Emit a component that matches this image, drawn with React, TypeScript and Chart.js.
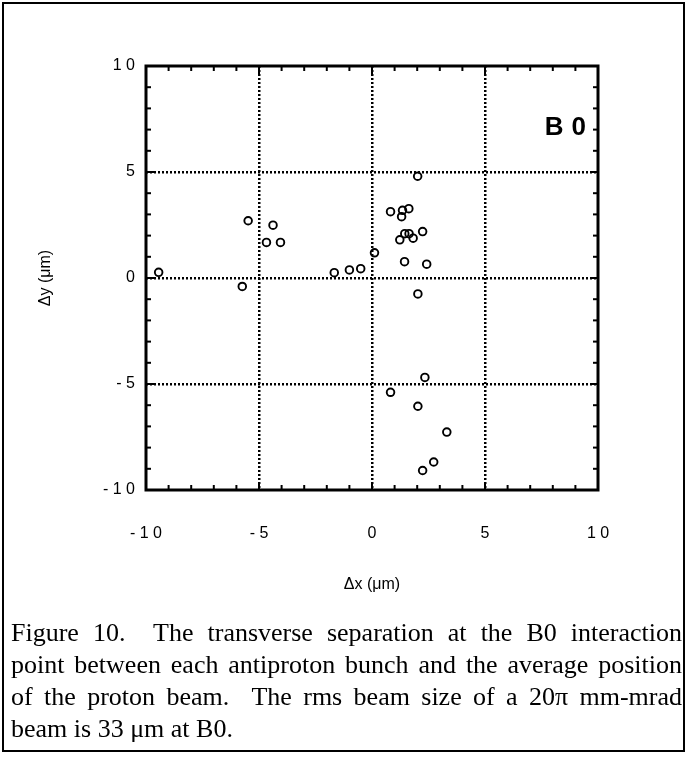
import React, { useEffect, useRef } from "react";
import { Chart, registerables } from "chart.js";

Chart.register(...registerables);

// Data (Δx, Δy in µm)
const xValues = [
  -9.44, -5.74, -5.48, -4.38, -4.67, -4.05, -1.67, -1.0, -0.5, 0.11,
  2.02, 0.82, 1.31, 1.35, 1.63, 1.23, 1.45, 1.64, 1.82, 2.24,
  1.44, 2.42, 2.03, 2.34, 0.82, 2.03, 3.31, 2.73, 2.24,
];
const yValues = [
  0.27, -0.4, 2.7, 2.49, 1.68, 1.68, 0.25, 0.38, 0.44, 1.19,
  4.8, 3.13, 2.89, 3.19, 3.27, 1.8, 2.09, 2.09, 1.88, 2.19,
  0.77, 0.65, -0.75, -4.69, -5.39, -6.05, -7.27, -8.68, -9.08,
];
const xTicks = [-10, -5, 0, 5, 10];
const yTicks = [-10, -5, 0, 5, 10];
const minorTicks = [-9, -8, -7, -6, -5, -4, -3, -2, -1, 0, 1, 2, 3, 4, 5, 6, 7, 8, 9];
const panelLabel = "B0";
const xTitle = "Δx (μm)";
const yTitle = "Δy (μm)";
const captionLines = [
  "Figure 10.  The transverse separation at the B0 interaction",
  "point between each antiproton bunch and the average position",
  "of the proton beam.  The rms beam size of a 20π mm-mrad",
  "beam is 33 μm at B0.",
];

const spaced = (v: number | string) => String(v).split("").join(" ");

const framePlugin = {
  id: "frameTicks",
  afterDraw(chart: any) {
    const { ctx, chartArea: a, scales } = chart;
    const xs = scales.x;
    const ys = scales.y;
    ctx.save();
    ctx.strokeStyle = "#000";
    ctx.lineCap = "butt";
    const line = (x1: number, y1: number, x2: number, y2: number) => {
      ctx.beginPath();
      ctx.moveTo(x1, y1);
      ctx.lineTo(x2, y2);
      ctx.stroke();
    };
    ctx.lineWidth = 2;
    for (const v of minorTicks) {
      const len = v % 5 === 0 ? 8 : 5;
      const px = xs.getPixelForValue(v);
      line(px, a.bottom, px, a.bottom - len);
      line(px, a.top, px, a.top + len);
      const py = ys.getPixelForValue(v);
      line(a.left, py, a.left + len, py);
      line(a.right, py, a.right - len, py);
    }
    ctx.lineWidth = 3;
    ctx.strokeRect(a.left, a.top, a.right - a.left, a.bottom - a.top);
    ctx.fillStyle = "#000";
    ctx.font = 'bold 26px "Liberation Sans"';
    (ctx as any).letterSpacing = "8px";
    ctx.textAlign = "right";
    ctx.textBaseline = "middle";
    ctx.fillText(panelLabel, a.right - 12 + 8, a.top + 62);
    ctx.restore();
  },
};

const gridColor = (c: any) =>
  c.tick && Math.abs(c.tick.value) === 10 ? "rgba(0,0,0,0)" : "#000";

export default function App() {
  const canvasRef = useRef<HTMLCanvasElement | null>(null);

  useEffect(() => {
    if (!canvasRef.current) return;
    const chart = new Chart(canvasRef.current, {
      type: "scatter",
      data: {
        datasets: [
          {
            data: xValues.map((x, i) => ({ x, y: yValues[i] })),
            pointStyle: "circle",
            pointRadius: 3.8,
            pointBorderWidth: 1.9,
            pointBackgroundColor: "rgba(0,0,0,0)",
            pointBorderColor: "#000",
            showLine: false,
          } as any,
        ],
      },
      options: {
        animation: false,
        responsive: false,
        devicePixelRatio: 1,
        layout: { padding: { top: 66, right: 89, left: 0, bottom: 0 } },
        plugins: {
          legend: { display: false },
          tooltip: { enabled: false },
        },
        scales: {
          x: {
            type: "linear",
            min: -10,
            max: 10,
            afterBuildTicks: (s: any) => {
              s.ticks = xTicks.map((v) => ({ value: v }));
            },
            afterFit: (s: any) => {
              s.height = 110;
            },
            grid: {
              color: gridColor,
              lineWidth: 2.5,
              drawTicks: false,
              borderDash: [2, 2],
            } as any,
            border: { display: false, dash: [2, 2] },
            ticks: {
              color: "#000",
              font: { family: "Liberation Sans", size: 16 },
              padding: 34,
              maxRotation: 0,
              autoSkip: false,
              callback: (v: any) => spaced(v),
            },
            title: {
              display: true,
              text: xTitle,
              color: "#000",
              font: { family: "Liberation Sans", size: 16 },
              padding: { top: 0, bottom: 6 },
            },
          },
          y: {
            type: "linear",
            min: -10,
            max: 10,
            afterBuildTicks: (s: any) => {
              s.ticks = yTicks.map((v) => ({ value: v }));
            },
            afterFit: (s: any) => {
              s.width = 146;
            },
            grid: {
              color: gridColor,
              lineWidth: 2.5,
              drawTicks: false,
              borderDash: [2, 2],
            } as any,
            border: { display: false, dash: [2, 2] },
            ticks: {
              color: "#000",
              font: { family: "Liberation Sans", size: 16 },
              padding: 11,
              autoSkip: false,
              callback: (v: any) => spaced(v),
            },
            title: {
              display: true,
              text: yTitle,
              color: "#000",
              font: { family: "Liberation Sans", size: 16 },
              padding: { top: 36, bottom: 0 },
            },
          },
        },
      },
      plugins: [framePlugin],
    } as any);
    return () => chart.destroy();
  }, []);

  return (
    <div
      style={{
        position: "absolute",
        left: 0,
        top: 0,
        width: 687,
        height: 757,
        background: "#fff",
        overflow: "hidden",
      }}
    >
      <canvas
        ref={canvasRef}
        width={687}
        height={600}
        style={{ position: "absolute", left: 0, top: 0, width: 687, height: 600 }}
      />
      <div
        style={{
          position: "absolute",
          left: 2,
          top: 2,
          width: 683,
          height: 750,
          boxSizing: "border-box",
          border: "2px solid #000",
          pointerEvents: "none",
        }}
      />
      <div
        style={{
          position: "absolute",
          left: 11,
          top: 617,
          width: 671,
          fontFamily: '"Liberation Serif", serif',
          fontSize: 26,
          lineHeight: "32px",
          color: "#000",
        }}
      >
        {captionLines.map((t, i) => (
          <div
            key={i}
            style={{
              textAlign: "justify",
              textAlignLast: i < captionLines.length - 1 ? "justify" : "left",
              whiteSpace: "pre-wrap",
            }}
          >
            {t}
          </div>
        ))}
      </div>
    </div>
  );
}
